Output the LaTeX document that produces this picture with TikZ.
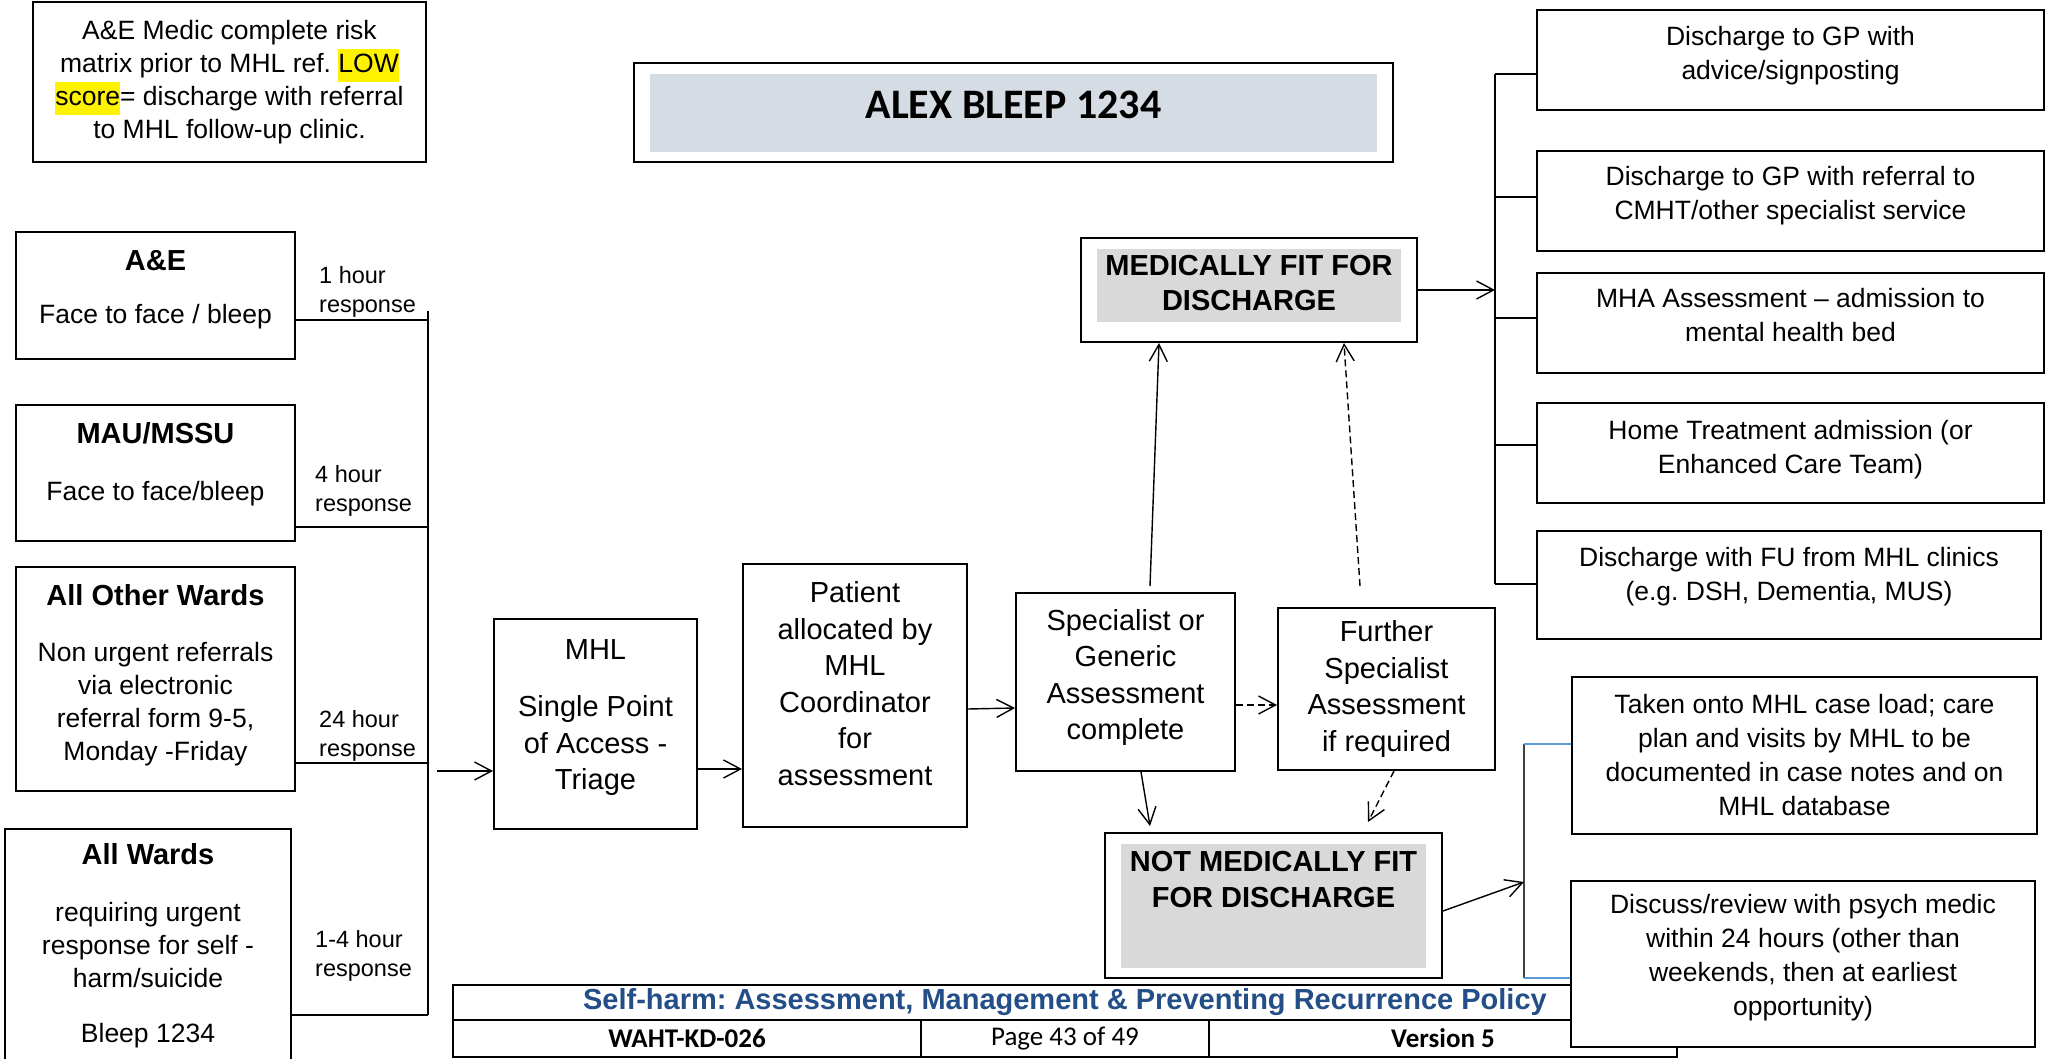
\documentclass[tikz,border=0pt]{standalone}
\usepackage{fontspec}
\setmainfont{Liberation Sans}
\newfontfamily\calibri{Carlito}
\usetikzlibrary{positioning,calc,arrows.meta}
\frenchspacing
\definecolor{fitgray}{RGB}{217,217,217}
\definecolor{alexfill}{RGB}{214,220,228}
\definecolor{footblue}{RGB}{36,78,135}
\definecolor{tickblue}{RGB}{91,155,213}
\newcommand\hl[1]{{\setlength{\fboxsep}{0pt}\colorbox{yellow}{\strut#1}}}
\newcommand\lift[1]{\rule[-#1]{0pt}{#1}}
\newcommand\ttl[1]{{\bfseries\fontsize{29}{33}\selectfont #1}}
\tikzset{
  box/.style={draw, line width=2pt, fill=white, align=center, inner sep=0pt,
    font=\fontsize{26.5}{33}\selectfont},
  mid/.style={box, font=\fontsize{29}{36.5}\selectfont},
  outbox/.style={box, font=\fontsize{26.5}{34}\selectfont},
  sz/.style 2 args={minimum width=#1pt, minimum height=#2pt},
  inset/.style 2 args={path picture={\fill[#1]
    ([shift={(16pt,-11pt)}]path picture bounding box.north west) rectangle
    ([shift={(-16pt,#2)}]path picture bounding box.south east);}},
  resp/.style={anchor=west, align=left, inner sep=0pt,
    font=\fontsize{23.5}{28.5}\selectfont},
  conn/.style={line width=1.4pt},
  dashedconn/.style={conn, dash pattern=on 7pt off 4pt},
  cell/.style={draw, line width=2.2pt, inner sep=0pt,
    font=\calibri\fontsize{27}{32}\selectfont}
}

\begin{document}
\begin{tikzpicture}[x=1pt, y=-1pt, >={Straight Barb[length=17pt,width=18pt]}]
    \useasboundingbox (0,0) rectangle (2046,1059);

    \node[box, sz={393}{160}] (1) at (229.5,82) {A\&E Medic complete risk\\matrix prior to MHL ref. \hl{LOW}\\\hl{score}= discharge with referral\\to MHL follow-up clinic.};
    \node[box, sz={759}{99}, inset={alexfill}{10pt}, font=\calibri\bfseries\fontsize{42}{50}\selectfont] (2) at (1013.5,112.5) {ALEX BLEEP 1234\lift{16pt}};

    \node[box, sz={279}{127}] (3) at (155.5,295.5) {\ttl{A\&E}\\[20pt]Face to face / bleep\lift{17pt}};
    \node[box, sz={279}{136}] (4) at (155.5,473) {\ttl{MAU/MSSU}\\[24pt]Face to face/bleep\lift{24pt}};
    \node[box, sz={279}{224}] (5) at (155.5,679) {\ttl{All Other Wards}\\[23pt]Non urgent referrals\\via electronic\\referral form 9-5,\\Monday -Friday\lift{14pt}};
    \node[box, sz={286}{234}] (6) at (148,946) {\ttl{All Wards}\\[24pt]requiring urgent\\response for self -\\harm/suicide\\[22pt]Bleep 1234};

    \node[resp] (r1) at (319,292) {1 hour\\response};
    \node[resp] (r2) at (315,491) {4 hour\\response};
    \node[resp] (r3) at (319,736) {24 hour\\response};
    \node[resp] (r4) at (315,956) {1-4 hour\\response};

    \coordinate (t0) at (428,311);
    \coordinate (t1) at (428,320);
    \coordinate (t2) at (428,527);
    \coordinate (t3) at (428,763);
    \coordinate (t4) at (428,1015);
    \coordinate (in) at (437,771);

    \node[mid, sz={203}{210}] (7) at (595.5,724) {MHL\\[21pt]Single Point\\of Access -\\Triage\lift{19pt}};
    \node[mid, sz={224}{263}] (8) at (855,695.5) {Patient\\allocated by\\MHL\\Coordinator\\for\\assessment\lift{24pt}};
    \node[mid, sz={219}{178}] (9) at (1125.5,682) {Specialist or\\Generic\\Assessment\\complete\lift{15pt}};
    \node[mid, sz={217}{162}] (10) at (1386.5,689) {Further\\Specialist\\Assessment\\if required};

    \node[box, sz={336}{104}, inset={fitgray}{20pt}, font=\bfseries\fontsize{29}{35}\selectfont] (11) at (1249,290) {MEDICALLY FIT FOR\\DISCHARGE\lift{14pt}};
    \node[box, sz={337}{145}, inset={fitgray}{10pt}, font=\bfseries\fontsize{29}{36}\selectfont] (12) at (1273.5,905.5) {NOT MEDICALLY FIT\\FOR DISCHARGE\lift{52pt}};

    \node[outbox, sz={507}{100}] (13) at (1790.5,60) {Discharge to GP with\\advice/signposting\lift{15pt}};
    \node[outbox, sz={507}{100}] (14) at (1790.5,201) {Discharge to GP with referral to\\CMHT/other specialist service\lift{16pt}};
    \node[outbox, sz={507}{100}] (15) at (1790.5,323) {MHA Assessment – admission to\\mental health bed\lift{16pt}};
    \node[outbox, sz={507}{100}] (16) at (1790.5,453) {Home Treatment admission (or\\Enhanced Care Team)\lift{13pt}};
    \node[outbox, sz={504}{108}] (17) at (1789,585) {Discharge with FU from MHL clinics\\(e.g. DSH, Dementia, MUS)\lift{22pt}};

    \coordinate (v1) at (1495,74);
    \coordinate (v2) at (1495,197);
    \coordinate (v3) at (1495,318);
    \coordinate (v4) at (1495,445);
    \coordinate (v5) at (1495,584);

    \node[cell, sz={1224}{35}, font=\bfseries\fontsize{29}{32}\selectfont, text=footblue] (20) at (1065,1002.5) {Self-harm: Assessment, Management \& Preventing Recurrence Policy};
    \node[cell, sz={468}{37}, font=\calibri\bfseries\fontsize{27}{32}\selectfont] (21) at (687,1038.5) {WAHT-KD-026};
    \node[cell, sz={288}{37}] (22) at (1065,1038.5) {Page 43 of 49};
    \node[cell, sz={468}{37}, font=\calibri\bfseries\fontsize{27}{32}\selectfont] (23) at (1443,1038.5) {Version 5};

    \node[outbox, sz={465}{157}] (18) at (1804.5,755.5) {Taken onto MHL case load; care\\plan and visits by MHL to be\\documented in case notes and on\\MHL database};
    \node[outbox, sz={464}{166}] (19) at (1803,964) {Discuss/review with psych medic\\within 24 hours (other than\\weekends, then at earliest\\opportunity)\lift{18pt}};

    \coordinate (w0) at (1524,882);
    \coordinate (w1) at (1524,744);
    \coordinate (w2) at (1524,978);

    \draw[conn] (t0) -- (t4);
    \draw[conn] (3.east |- t1) -- (t1);
    \draw[conn] (4.east |- t2) -- (t2);
    \draw[conn] (5.east |- t3) -- (t3);
    \draw[conn] (6.east |- t4) -- (t4);
    \draw[conn, ->] (in) -- (7.west |- in);

    \path[conn, ->]
    ([yshift=-45pt]7.east) edge ([yshift=-73.5pt]8.west)
    ([yshift=-13.5pt]8.east) edge ([yshift=-26pt]9.west)
    ([xshift=24.5pt,yshift=6pt]9.north) edge ([xshift=-90pt]11.south)
    ([xshift=15.5pt]9.south) edge ([xshift=-123.5pt,yshift=6pt]12.north);
    \path[dashedconn, ->]
    ([yshift=-23pt]9.east) edge ([yshift=-16pt]10.west)
    ([xshift=-26.5pt,yshift=21pt]10.north) edge ([xshift=95pt]11.south)
    ([xshift=7.5pt]10.south) edge ([xshift=94.5pt,yshift=10pt]12.north);

    \draw[conn] (v1) -- (v5);
    \draw[conn, ->] (11.east) -- (11.east -| v1);
    \draw[conn] (13.west |- v1) -- (v1);
    \draw[conn] (14.west |- v2) -- (v2);
    \draw[conn] (15.west |- v3) -- (v3);
    \draw[conn] (16.west |- v4) -- (v4);
    \draw[conn] (17.west |- v5) -- (v5);

    \draw[conn, black!75] (w1) -- (w2);
    \draw[conn, tickblue] (w1) -- (18.west |- w1);
    \draw[conn, tickblue] (w2) -- (19.west |- w2);
    \draw[conn, ->] ([yshift=-5.5pt]12.east) -- (w0);
  \end{tikzpicture}
\end{document}
